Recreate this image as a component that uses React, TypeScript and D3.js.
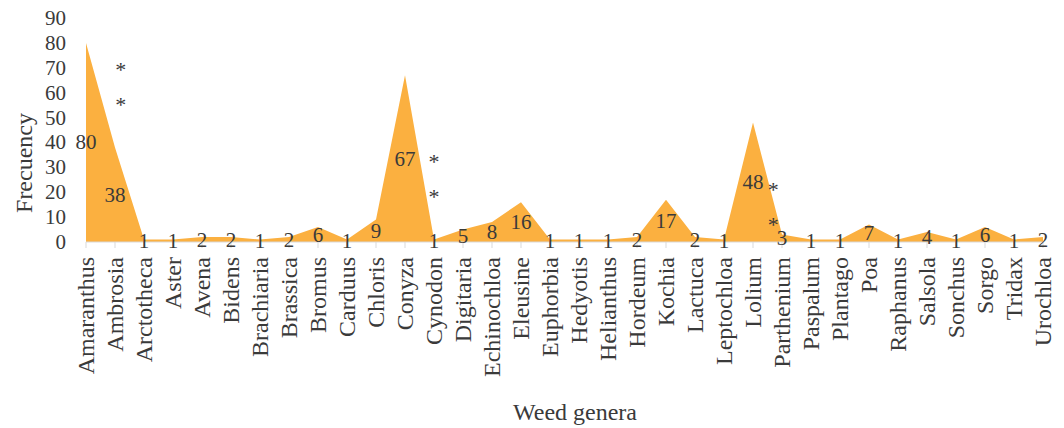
import React from "react";
import * as d3 from "d3";

const categories = ["Amaranthus","Ambrosia","Arctotheca","Aster","Avena","Bidens","Brachiaria","Brassica","Bromus","Carduus","Chloris","Conyza","Cynodon","Digitaria","Echinochloa","Eleusine","Euphorbia","Hedyotis","Helianthus","Hordeum","Kochia","Lactuca","Leptochloa","Lolium","Parthenium","Paspalum","Plantago","Poa","Raphanus","Salsola","Sonchus","Sorgo","Tridax","Urochloa"];
const values = [80,38,1,1,2,2,1,2,6,1,9,67,1,5,8,16,1,1,1,2,17,2,1,48,3,1,1,7,1,4,1,6,1,2];
const yTicks = [0,10,20,30,40,50,60,70,80,90];
// asterisk annotations: category, y value, fractional category offset
const asterisks = [
  { cat: "Ambrosia", v: 70, off: 0.2 },
  { cat: "Ambrosia", v: 56, off: 0.2 },
  { cat: "Cynodon", v: 33, off: 0 },
  { cat: "Cynodon", v: 19, off: 0 },
  { cat: "Parthenium", v: 22, off: -0.3 },
  { cat: "Parthenium", v: 8, off: -0.3 },
];

const W = 1064, H = 428;
const TXT = "#3a3a3a";
const fs = (size: number) => ({ fontFamily: "Liberation Serif", fontSize: size + "px" });

export default function App() {
  const x = d3.scalePoint<string>().domain(categories).range([86, 1043]);
  const y = d3.scaleLinear().domain([0, 90]).range([242, 18]);
  const step = x.step();
  const area = d3.area<number>()
    .x((_, i) => x(categories[i])!)
    .y0(y(0))
    .y1((d) => y(d));

  return (
    <svg width={W} height={H} style={{ position: "absolute", left: 0, top: 0, background: "#fff" }}>
      <path d={area(values)!} fill="#FBB040" />
      <line x1={x(categories[0])} x2={x(categories[categories.length - 1])} y1={y(0)} y2={y(0)} stroke="#d9d9d9" strokeWidth={1} />
      {categories.map((c) => (
        <line key={"t" + c} x1={x(c)} x2={x(c)} y1={y(0)} y2={y(0) + 6} stroke="#d9d9d9" strokeWidth={1} />
      ))}
      {yTicks.map((t) => (
        <text key={"y" + t} x={66} y={y(t)} textAnchor="end" dominantBaseline="central" style={fs(21)} fill={TXT}>{t}</text>
      ))}
      {categories.map((c) => (
        <text key={"c" + c} transform={`translate(${x(c)},${257}) rotate(-90)`} textAnchor="end" dominantBaseline="central" style={fs(24)} fill={TXT}>{c}</text>
      ))}
      {values.map((v, i) => (
        <text key={"d" + i} x={x(categories[i])} y={y(v / 2)} textAnchor="middle" dominantBaseline="central" style={fs(21)} fill={TXT}>{v}</text>
      ))}
      {asterisks.map((a, i) => (
        <text key={"a" + i} x={x(a.cat)! + a.off * step} y={y(a.v) + 2} textAnchor="middle" dominantBaseline="central" style={fs(22)} fill={TXT}>*</text>
      ))}
      <text transform={`translate(24,163) rotate(-90)`} textAnchor="middle" dominantBaseline="central" style={fs(24)} fill={TXT}>Frecuency</text>
      <text x={575} y={412} textAnchor="middle" dominantBaseline="central" style={fs(24)} fill={TXT}>Weed genera</text>
    </svg>
  );
}
